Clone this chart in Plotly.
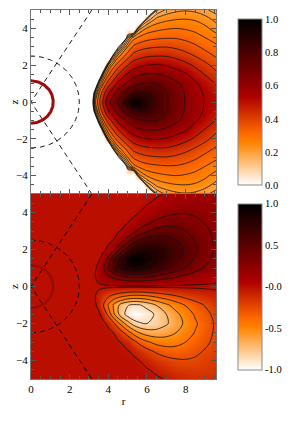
import numpy as np
import plotly.graph_objects as go

# ---------------- data ----------------
R = [0, 2.9, 3.1, 3.3, 3.5, 3.75, 4.0, 4.25, 4.5, 5.0, 5.3, 5.6, 6.0, 6.5, 7.0, 7.5, 8.0, 8.5, 9.0, 9.6]
Z = [-5, -4.5, -4, -3.5, -3, -2.5, -2, -1.5, -1, -0.5, 0, 0.5, 1, 1.5, 2, 2.5, 3, 3.5, 4, 4.5, 5]

# top panel (normalised, 0..1; the grid point just outside the torus edge is
# given slightly below zero so the edge sits where it is seen), rows follow Z
TOP = [
    [0,0,0,0,0,0,0,0,0,0,0,0,-.12,.15,.19,.205,.21,.205,.19,.17],
    [0,0,0,0,0,0,0,0,0,0,0,-.15,.16,.225,.24,.248,.25,.245,.23,.20],
    [0,0,0,0,0,0,0,0,0,0,-.05,.20,.255,.275,.285,.29,.285,.275,.26,.232],
    [0,0,0,0,0,0,0,0,-.35,.17,.27,.30,.32,.33,.335,.335,.325,.31,.29,.265],
    [0,0,0,0,0,0,0,-.22,.10,.29,.35,.37,.385,.393,.395,.385,.37,.35,.325,.30],
    [0,0,0,0,0,0,-.15,.16,.27,.37,.42,.44,.455,.462,.46,.445,.42,.395,.365,.333],
    [0,0,0,0,0,-.08,.22,.31,.37,.46,.50,.52,.54,.545,.535,.51,.485,.45,.415,.37],
    [0,0,0,0,-.10,.22,.33,.40,.46,.55,.59,.62,.635,.635,.615,.58,.55,.50,.46,.41],
    [0,0,0,-.10,.20,.34,.43,.49,.56,.645,.70,.725,.74,.735,.70,.65,.60,.55,.51,.455],
    [0,0,-.13,.18,.33,.44,.53,.60,.67,.79,.83,.855,.85,.80,.74,.68,.62,.57,.53,.49],
    [0,0,-.06,.27,.37,.485,.60,.68,.745,.91,1.0,.98,.89,.81,.745,.68,.625,.575,.535,.50],
    [0,0,-.13,.18,.33,.44,.53,.60,.67,.79,.83,.855,.85,.80,.74,.68,.62,.57,.53,.49],
    [0,0,0,-.10,.20,.34,.43,.49,.56,.645,.70,.725,.74,.735,.70,.65,.60,.55,.51,.455],
    [0,0,0,0,-.10,.22,.33,.40,.46,.55,.59,.62,.635,.635,.615,.58,.55,.50,.46,.41],
    [0,0,0,0,0,-.08,.22,.31,.37,.46,.50,.52,.54,.545,.535,.51,.485,.45,.415,.37],
    [0,0,0,0,0,0,-.15,.16,.27,.37,.42,.44,.455,.462,.46,.445,.42,.395,.365,.333],
    [0,0,0,0,0,0,0,-.22,.10,.29,.35,.37,.385,.393,.395,.385,.37,.35,.325,.30],
    [0,0,0,0,0,0,0,0,-.35,.17,.27,.30,.32,.33,.335,.335,.325,.31,.29,.265],
    [0,0,0,0,0,0,0,0,0,0,-.05,.20,.255,.275,.285,.29,.285,.275,.26,.232],
    [0,0,0,0,0,0,0,0,0,0,0,-.15,.16,.225,.24,.248,.25,.245,.23,.20],
    [0,0,0,0,0,0,0,0,0,0,0,0,-.12,.15,.19,.205,.21,.205,.19,.17],
]

# bottom panel (normalised, -1..1), rows follow Z
BOTTOM = [
    [0,0,0,0,0,0,0,0,0,0,0,0,0,-.01,-.04,-.08,-.11,-.13,-.13,-.12],
    [0,0,0,0,0,0,0,0,0,0,0,0,-.02,-.06,-.11,-.15,-.17,-.18,-.17,-.15],
    [0,0,0,0,0,0,0,0,0,0,0,-.03,-.08,-.15,-.20,-.23,-.24,-.23,-.20,-.17],
    [0,0,0,0,0,0,0,0,0,-.02,-.06,-.12,-.20,-.28,-.33,-.34,-.32,-.28,-.24,-.19],
    [0,0,0,0,0,0,0,0,-.01,-.10,-.20,-.29,-.38,-.45,-.47,-.45,-.40,-.34,-.28,-.21],
    [0,0,0,0,0,0,0,-.03,-.12,-.33,-.45,-.55,-.62,-.64,-.61,-.55,-.47,-.39,-.31,-.22],
    [0,0,0,0,0,0,-.06,-.20,-.36,-.63,-.76,-.83,-.85,-.80,-.72,-.62,-.52,-.42,-.33,-.22],
    [0,0,0,0,0,-.10,-.30,-.50,-.68,-.92,-1.0,-.98,-.92,-.82,-.70,-.59,-.48,-.38,-.30,-.20],
    [0,0,0,0,-.08,-.25,-.42,-.56,-.68,-.84,-.87,-.86,-.80,-.69,-.58,-.48,-.39,-.31,-.24,-.16],
    [0,0,0,-.02,-.08,-.15,-.22,-.28,-.33,-.40,-.42,-.42,-.40,-.35,-.30,-.25,-.20,-.16,-.12,-.08],
    [0,0,0,0,0,0,0,0,0,0,0,0,0,0,0,0,0,0,0,0],
    [0,0,0,.02,.08,.15,.22,.28,.33,.40,.42,.42,.40,.35,.30,.25,.20,.16,.12,.08],
    [0,0,0,0,.08,.25,.42,.56,.68,.84,.87,.86,.80,.69,.58,.48,.39,.31,.24,.16],
    [0,0,0,0,0,.10,.30,.50,.68,.92,1.0,.98,.92,.82,.70,.59,.48,.38,.30,.20],
    [0,0,0,0,0,0,.06,.20,.36,.63,.76,.83,.85,.80,.72,.62,.52,.42,.33,.22],
    [0,0,0,0,0,0,0,.03,.12,.33,.45,.55,.62,.64,.61,.55,.47,.39,.31,.22],
    [0,0,0,0,0,0,0,0,.01,.10,.20,.29,.38,.45,.47,.45,.40,.34,.28,.21],
    [0,0,0,0,0,0,0,0,0,.02,.06,.12,.20,.28,.33,.34,.32,.28,.24,.19],
    [0,0,0,0,0,0,0,0,0,0,0,.03,.08,.15,.20,.23,.24,.23,.20,.17],
    [0,0,0,0,0,0,0,0,0,0,0,0,.02,.06,.11,.15,.17,.18,.17,.15],
    [0,0,0,0,0,0,0,0,0,0,0,0,0,.01,.04,.08,.11,.13,.13,.12],
]

TOP_LEVELS = [0.858, 0.735, 0.63, 0.54, 0.463, 0.397, 0.34, 0.29, 0.25, 0.214,
              0.184, 0.157, 0.135, 0.116]
BOTTOM_LEVELS = [-0.85, -0.7, -0.55, -0.4, -0.25, -0.03, 0.03, 0.25, 0.4, 0.55, 0.7, 0.85]

TOP_TICKS = [0.0, 0.2, 0.4, 0.6, 0.8, 1.0]
TOP_TICKTEXT = ["0.0", "0.2", "0.4", "0.6", "0.8", "1.0"]
BOT_TICKS = [-1.0, -0.5, 0.0, 0.5, 1.0]
BOT_TICKTEXT = ["-1.0", "-0.5", "-0.0", "0.5", "1.0"]

HORIZON_R = 1.15
DASH_CIRCLE_R = 2.5
CONE_END = (3.15, 5.0)

# ---------------- styling ----------------
FONT = "Liberation Serif"
CS = [[0.0, "rgb(255,255,255)"], [0.255, "rgb(255,132,0)"], [0.31, "rgb(255,106,0)"],
      [0.53, "rgb(174,0,0)"], [0.69, "rgb(114,0,0)"], [1.0, "rgb(0,0,0)"]]

# the page body adds an 8 px offset, so the figure is 8 px smaller
W, H = 294, 417
L, Rm, T, B = 23, 86, 2, 46
split = 185 / 369

fig = go.Figure()

def cbar(yc, ticks, text):
    return dict(x=(238 - 31) / 185, xanchor="left", xpad=0, ypad=0,
                y=yc, yanchor="middle", len=166 / 369, lenmode="fraction",
                thickness=24, outlinecolor="#8a8a8a", outlinewidth=1,
                tickvals=ticks, ticktext=text, ticks="", ticklen=0,
                tickfont=dict(family=FONT, size=10.5, color="black"))

fig.add_trace(go.Heatmap(x=R, y=Z, z=TOP, colorscale=CS, zmin=0, zmax=1, zsmooth="best",
                         colorbar=cbar(1 - (92.3 / 369), TOP_TICKS, TOP_TICKTEXT),
                         xaxis="x", yaxis="y", hoverinfo="skip"))
fig.add_trace(go.Heatmap(x=R, y=Z, z=BOTTOM, colorscale=CS, zmin=-1, zmax=1, zsmooth="best",
                         colorbar=cbar((379 - 286.7) / 369, BOT_TICKS, BOT_TICKTEXT),
                         xaxis="x2", yaxis="y2", hoverinfo="skip"))

for lev in TOP_LEVELS:
    fig.add_trace(go.Contour(x=R, y=Z, z=TOP, autocontour=False,
                             contours=dict(start=lev, end=lev, size=1, coloring="none"),
                             line=dict(color="#111", width=0.75, smoothing=1.0), showscale=False,
                             xaxis="x", yaxis="y", hoverinfo="skip"))
for lev in BOTTOM_LEVELS:
    fig.add_trace(go.Contour(x=R, y=Z, z=BOTTOM, autocontour=False,
                             contours=dict(start=lev, end=lev, size=1, coloring="none"),
                             line=dict(color="#111", width=0.8, smoothing=1.0), showscale=False,
                             xaxis="x2", yaxis="y2", hoverinfo="skip"))

th = np.linspace(-np.pi / 2, np.pi / 2, 181)
for xa, ya, hcol, hw in (("x", "y", "#a00a0a", 3), ("x2", "y2", "#960c02", 2.5)):
    fig.add_trace(go.Scatter(x=DASH_CIRCLE_R * np.cos(th), y=DASH_CIRCLE_R * np.sin(th),
                             mode="lines", line=dict(color="black", width=0.9, dash="5px,4px"),
                             xaxis=xa, yaxis=ya, showlegend=False, hoverinfo="skip"))
    fig.add_trace(go.Scatter(x=[CONE_END[0], 0, CONE_END[0]], y=[CONE_END[1], 0, -CONE_END[1]],
                             mode="lines", line=dict(color="black", width=0.9, dash="5px,4px"),
                             xaxis=xa, yaxis=ya, showlegend=False, hoverinfo="skip"))
    fig.add_trace(go.Scatter(x=HORIZON_R * np.cos(th), y=HORIZON_R * np.sin(th),
                             mode="lines", line=dict(color=hcol, width=hw),
                             xaxis=xa, yaxis=ya, showlegend=False, hoverinfo="skip"))

axcommon = dict(showline=True, linecolor="#777", linewidth=1, mirror="ticks",
                ticks="inside", ticklen=5, tickcolor="#555", showgrid=False, zeroline=False,
                automargin=False, tickfont=dict(family=FONT, size=11, color="black"))
xr = [0, 9.57]
fig.update_layout(
    width=W, height=H, margin=dict(l=L, r=Rm, t=T, b=B, autoexpand=False),
    paper_bgcolor="white", plot_bgcolor="white", showlegend=False,
    font=dict(family=FONT, color="black"),
    xaxis=dict(domain=[0, 1], anchor="y", range=xr, dtick=2, showticklabels=False,
               minor=dict(ticks="inside", dtick=0.5, ticklen=3, tickcolor="#555"), **axcommon),
    yaxis=dict(domain=[split, 1], anchor="x", range=[-5, 5], dtick=2,
               minor=dict(ticks="inside", dtick=0.5, ticklen=3, tickcolor="#555"),
               title=dict(text="z", font=dict(family=FONT, size=11), standoff=11), **axcommon),
    xaxis2=dict(domain=[0, 1], anchor="y2", range=xr, dtick=2,
                minor=dict(ticks="inside", dtick=0.5, ticklen=3, tickcolor="#555"),
                title=dict(text="r", font=dict(family=FONT, size=11), standoff=3), **axcommon),
    yaxis2=dict(domain=[0, split], anchor="x2", range=[-5, 5], dtick=2,
                minor=dict(ticks="inside", dtick=0.5, ticklen=3, tickcolor="#555"),
                title=dict(text="z", font=dict(family=FONT, size=11), standoff=11), **axcommon),
)

fig.write_html("out.html")
